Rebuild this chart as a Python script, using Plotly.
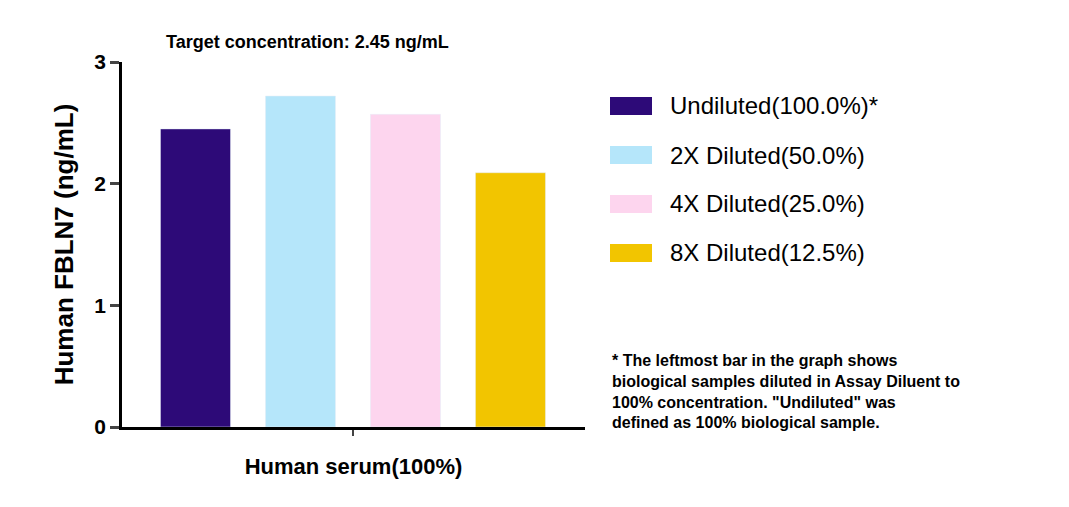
import plotly.graph_objects as go

# Data
labels = ["Undiluted(100.0%)*", "2X Diluted(50.0%)", "4X Diluted(25.0%)", "8X Diluted(12.5%)"]
values = [2.45, 2.72, 2.57, 2.09]
colors = ["#2D0A78", "#B5E6FA", "#FDD5EE", "#F2C500"]
positions = [0, 1, 2, 3]

W, H = 1069, 507
OFF = 8  # page body margin
# target plot box in page pixels
PX0, PX1, PY0, PY1 = 122, 585, 62, 427
L, T = PX0 - OFF, PY0 - OFF
R, B = W - (PX1 - OFF), H - (PY1 - OFF)


def px(x):
    return (x - PX0) / (PX1 - PX0)


def py(y):
    return (PY1 - y) / (PY1 - PY0)


fig = go.Figure()
for p, v, c, name in zip(positions, values, colors, labels):
    fig.add_trace(go.Bar(x=[p], y=[v], marker_color=c, width=0.667, name=name,
                         showlegend=False))

# custom legend (big square swatches)
for i, (c, name) in enumerate(zip(colors, labels)):
    yc = 106 + i * 49
    fig.add_shape(type="rect", xref="paper", yref="paper",
                  x0=px(610), x1=px(652), y0=py(yc + 9), y1=py(yc - 9),
                  fillcolor=c, line_width=0)
    fig.add_annotation(xref="paper", yref="paper", x=px(668), y=py(yc),
                       text=name, showarrow=False, xanchor="left", yanchor="middle",
                       font=dict(size=24, color="black"))

fig.add_annotation(xref="paper", yref="paper", x=px(610), y=py(350),
                   showarrow=False, xanchor="left", yanchor="top", align="left",
                   text="<b>* The leftmost bar in the graph shows<br>biological samples diluted in Assay Diluent to<br>"
                        "100% concentration. \"Undiluted\" was<br>defined as 100% biological sample.</b>",
                   font=dict(size=16, color="black"))

fig.update_layout(
    width=W, height=H,
    margin=dict(l=L, r=R, t=T, b=B),
    plot_bgcolor="white", paper_bgcolor="white",
    font=dict(family="Arial, Liberation Sans", color="black"),
    title=dict(text="<b>Target concentration: 2.45 ng/mL</b>", x=(166 - OFF) / W, xanchor="left",
               y=1 - (42 - OFF) / H, yanchor="middle", font=dict(size=18)),
    xaxis=dict(range=[-0.7, 3.71], tickvals=[1.5], ticktext=[""], ticks="outside",
               ticklen=6, tickwidth=2, showline=True, linewidth=2.5, linecolor="black",
               showgrid=False, zeroline=False,
               title=dict(text="<b>Human serum(100%)</b>", font=dict(size=22), standoff=22)),
    yaxis=dict(range=[0, 3], tickvals=[0, 1, 2, 3], ticktext=["<b>0</b>", "<b>1</b>", "<b>2</b>", "<b>3</b>"],
               ticks="outside", ticklen=9,
               tickwidth=2.5, showline=True, linewidth=2.5, linecolor="black",
               showgrid=False, zeroline=False, tickfont=dict(size=21),
               title=dict(text="<b>Human FBLN7 (ng/mL)</b>", font=dict(size=26), standoff=14)),
)

fig.write_html("out.html")
